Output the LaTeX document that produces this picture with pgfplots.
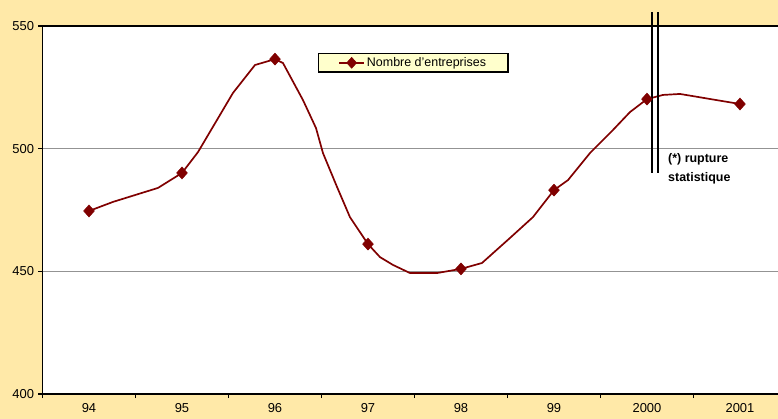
\documentclass[border=0pt]{standalone}
\usepackage{pgfplots}
\pgfplotsset{compat=1.18}
\usepackage{fontspec}
\setmainfont{Liberation Sans}
\definecolor{bg}{RGB}{255,233,168}
\definecolor{dred}{RGB}{128,0,0}
\definecolor{legfill}{RGB}{255,255,204}
\begin{document}
\begin{tikzpicture}
\fill[bg] (0,0) rectangle (778bp,419bp);
\useasboundingbox (0,0) rectangle (778bp,419bp);
\begin{axis}[
  at={(42.5bp,25bp)}, anchor=south west,
  scale only axis, width=735.5bp, height=368bp,
  xmin=-0.5, xmax=7.409, ymin=400, ymax=550,
  axis background/.style={fill=white},
  axis lines*=left,
  axis line style={line width=1.5pt, black},
  ytick={400,450,500,550},
  ymajorgrids, grid style={gray!85, line width=0.7pt},
  xtick={-0.5,0.5,1.5,2.5,3.5,4.5,5.5,6.5},
  xticklabels={},
  extra x ticks={0,1,2,3,4,5,6,7},
  extra x tick labels={94,95,96,97,98,99,2000,2001},
  extra x tick style={tick style={draw=none}},
  tick align=outside, major tick length=4bp,
  tick style={black, line width=1.2pt},
  tick label style={font=\fontsize{13}{15}\selectfont},
  /pgf/number format/assume math mode=true,
  /pgf/number format/1000 sep={},
  yticklabel style={xshift=-1bp},
  xticklabel style={yshift=-2bp},
  clip=false,
  legend style={at={(0.504,0.9)}, anchor=center, fill=legfill, draw=black,
    line width=1.3pt, font=\fontsize{12.5}{14}\selectfont,
    inner xsep=20bp, inner ysep=2pt},
  legend cell align=left,
  legend image code/.code={\draw[mark repeat=2,mark phase=2] plot coordinates {(0cm,0cm) (0.44cm,0cm) (0.88cm,0cm)};},
]
\draw[black, line width=1.5pt] (rel axis cs:0,1) -- (rel axis cs:1,1);
% curve
\addplot[dred, line width=1.7pt, line join=round, forget plot] coordinates {
(0,474.6) (0.258,478.3) (0.742,484.0) (1,490.1) (1.172,498.6) (1.548,522.7)
(1.785,534.1) (2,536.5) (2.086,534.9) (2.301,519.8) (2.376,513.7) (2.441,508.4)
(2.516,498.2) (2.667,484.4) (2.806,472.1) (3,461.1) (3.129,455.8) (3.269,452.6)
(3.452,449.3) (3.742,449.3) (4,451) (4.226,453.4) (4.527,463.6) (4.774,472.1)
(5,483.1) (5.151,487.2) (5.387,498.2) (5.634,507.6) (5.817,514.9) (6,520.2)
(6.172,521.9) (6.355,522.3) (7,518.2)
};
% markers
\addplot[dred, mark=diamond*, mark size=6bp,
  mark options={fill=dred, line width=0.5pt, xscale=1.2}, only marks, forget plot] coordinates {
(0,474.6) (1,490.1) (2,536.5) (3,461.1) (4,451) (5,483.1) (6,520.2) (7,518.2)
};
\addlegendimage{dred, line width=1.7pt, mark=diamond*, mark size=5.5bp, mark options={fill=dred, line width=0.5pt, xscale=1.2}}
\addlegendentry{Nombre d'entreprises}
\draw[black, line width=1.5pt] (axis cs:6.054,555.7) -- (axis cs:6.054,490.1);
\draw[black, line width=1.5pt] (axis cs:6.118,555.7) -- (axis cs:6.118,490.1);
\node[anchor=north west, align=left, font=\bfseries\fontsize{12.5}{19.5}\selectfont, inner sep=0pt]
  at (axis cs:6.226,498.2) {(*) rupture\\statistique};
\end{axis}
\end{tikzpicture}
\end{document}
